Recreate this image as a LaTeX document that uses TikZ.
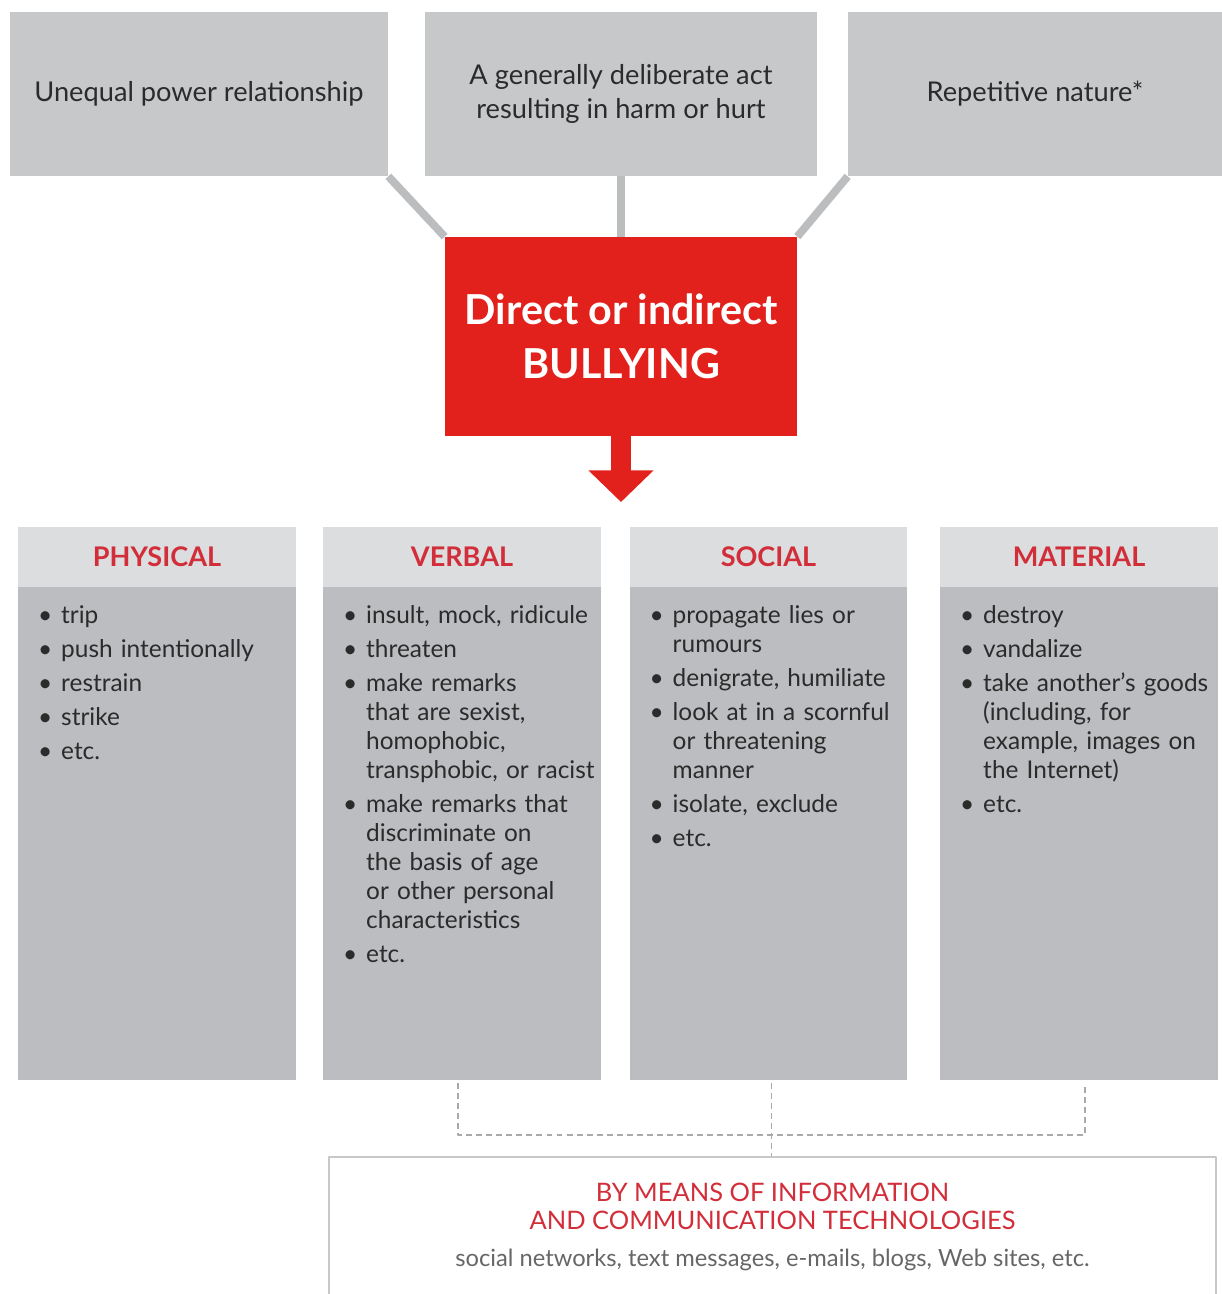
\documentclass[tikz,border=0pt]{standalone}
\usepackage{fontspec}
\setmainfont{Lato}
\usetikzlibrary{arrows.meta}
\definecolor{boxgray}{HTML}{C7C8CA}
\definecolor{linkgray}{HTML}{BCBDBF}
\definecolor{bred}{HTML}{E2211C}
\definecolor{hred}{HTML}{D22E3A}
\definecolor{headgray}{HTML}{DCDDDF}
\definecolor{bodygray}{HTML}{BCBDC0}
\definecolor{txtdark}{HTML}{2B2B2B}
\definecolor{txtsoft}{HTML}{666666}
\definecolor{dashgray}{HTML}{A7A9AC}
\newcommand{\itm}[1]{\par{\let\\\newline\hangindent=0.95em\hangafter=1\noindent\makebox[0.95em][l]{\textbullet}#1\par}}
\begin{document}
\begin{tikzpicture}[x=0.02cm,y=-0.02cm, line join=round,
    topbox/.style={fill=boxgray, minimum height=3.28cm, align=center, text=txtdark,
      font=\fontsize{15.5}{19.5}\selectfont},
    core/.style={fill=bred, minimum width=7.04cm, minimum height=3.98cm, align=center,
      text=white, font=\fontsize{23.5}{31}\selectfont\bfseries},
    link/.style={linkgray, line width=4.5pt},
    catbody/.style={fill=bodygray, minimum width=5.56cm, minimum height=11.06cm},
    cathead/.style={fill=headgray, anchor=north, minimum width=5.56cm, minimum height=1.2cm,
      text=hred, font=\fontsize{15.4}{17}\selectfont\bfseries},
    catlist/.style={anchor=north west, inner sep=0pt, text width=5.3cm, text=txtdark,
      font=\fontsize{13.9}{16.5}\selectfont\raggedright\setlength{\parskip}{2.8pt}},
    dashline/.style={dashgray, line width=1.1pt, dash pattern=on 3.4pt off 2.3pt},
    ictbox/.style={draw=boxgray, line width=1.2pt, minimum width=17.74cm, minimum height=2.8cm, align=center}]
\useasboundingbox (0,0) rectangle (1222,1294);
% the three criteria
\node[topbox, minimum width=7.56cm] (power) at (199,94) {Unequal power relationship};
\node[topbox, minimum width=7.84cm] (act) at (621,94) {A generally deliberate act\\resulting in harm or hurt};
\node[topbox, minimum width=7.48cm] (repeat) at (1035,94) {Repetitive nature*};
\node[core] (bully) at (621,336.5) {Direct or indirect\\BULLYING};
\draw[link] (power.south east) -- (bully.north west);
\draw[link] (act.south) -- (bully.north);
\draw[link] (repeat.south west) -- (bully.north east);
\draw[-{Triangle[width=36pt,length=18pt]}, line width=11pt, bred] (bully.south) -- (621,502);
% the four forms
\node[catbody] (phys) at (157,803.5) {};
\node[cathead] (physhead) at (phys.north) {PHYSICAL};
\node[catlist] (physlist) at ([xshift=0.4cm,yshift=-1.26cm]phys.north west)
  {\itm{trip}\itm{push intentionally}\itm{restrain}\itm{strike}\itm{etc.}};
\node[catbody] (verb) at (462,803.5) {};
\node[cathead] (verbhead) at (verb.north) {VERBAL};
\node[catlist] (verblist) at ([xshift=0.4cm,yshift=-1.26cm]verb.north west)
  {\itm{insult, mock, ridicule}\itm{threaten}
   \itm{make remarks\\that are sexist,\\homophobic,\\transphobic, or racist}
   \itm{make remarks that\\discriminate on\\the basis of age\\or other personal\\characteristics}
   \itm{etc.}};
\node[catbody] (soc) at (768.5,803.5) {};
\node[cathead] (sochead) at (soc.north) {SOCIAL};
\node[catlist] (soclist) at ([xshift=0.4cm,yshift=-1.26cm]soc.north west)
  {\itm{propagate lies or\\rumours}\itm{denigrate, humiliate}
   \itm{look at in a scornful\\or threatening\\manner}
   \itm{isolate, exclude}\itm{etc.}};
\node[catbody] (mat) at (1079,803.5) {};
\node[cathead] (mathead) at (mat.north) {MATERIAL};
\node[catlist] (matlist) at ([xshift=0.4cm,yshift=-1.26cm]mat.north west)
  {\itm{destroy}\itm{vandalize}
   \itm{take another's goods\\(including, for\\example, images on\\the Internet)}
   \itm{etc.}};
% ICT
\node[ictbox, font=\fontsize{14.5}{16}\selectfont] (ict) at (772.5,1227)
  {\color{hred}BY MEANS OF INFORMATION\\[0pt]
   \color{hred}AND COMMUNICATION TECHNOLOGIES\\[5pt]
   \fontsize{13.5}{16}\selectfont\color{txtsoft}social networks, text messages, e-mails, blogs, Web sites, etc.};
\coordinate (dy) at (0,1135);
\coordinate (jn) at ([xshift=0.06cm]soc.south |- dy);
\draw[dashline] ([xshift=-0.08cm,yshift=-0.06cm]verb.south) |- (jn) -| ([xshift=0.12cm,yshift=-0.06cm]mat.south);
\draw[dashline] (jn) ++(0,-52) -- (jn) -- (jn |- ict.north);
\end{tikzpicture}
\end{document}
